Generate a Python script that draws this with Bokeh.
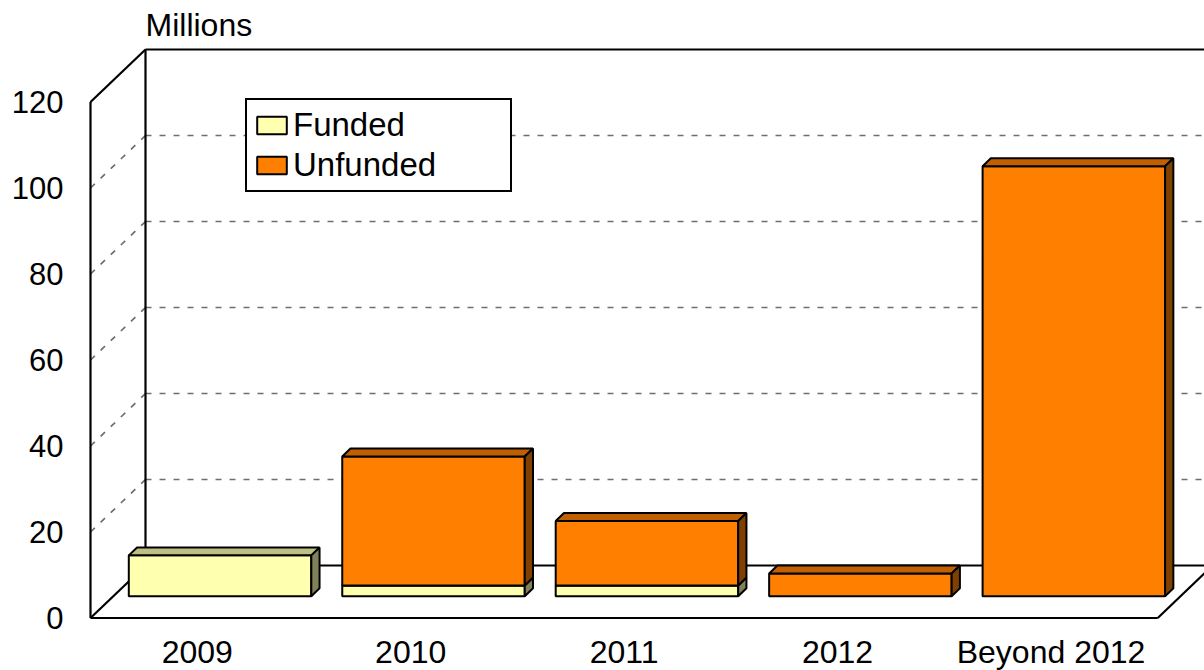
from bokeh.plotting import figure
from bokeh.models import Range1d, FixedTicker, Legend, LegendItem, ColumnDataSource
from bokeh.core.properties import value
from bokeh.embed import file_html
from bokeh.resources import INLINE

# ---------------- data ----------------
categories = ["2009", "2010", "2011", "2012", "Beyond 2012"]
funded = [9.5, 2.5, 2.5, 0.0, 0.0]
unfunded = [0.0, 30.0, 15.0, 5.3, 100.0]
y_ticks = [0, 20, 40, 60, 80, 100, 120]
grid_vals = [20, 40, 60, 80, 100]
y_top = 120

# ---------------- layout constants (figure pixel coords) ----------------
FONT = "Liberation Sans"
PX_PER_CAT = 213.45
PX_PER_M = 4.3
W, H = 1204, 670
LEFT_BORDER = 86
ZERO_X, ZERO_Y = 90.0, 617.5
x_start = (LEFT_BORDER - ZERO_X) / PX_PER_CAT
x_end = (W - ZERO_X) / PX_PER_CAT
y_end = ZERO_Y / PX_PER_M
y_start = -(H - ZERO_Y) / PX_PER_M

DX = 55.0 / PX_PER_CAT      # full depth, x
DY = 52.5 / PX_PER_M        # full depth, y
F0, F1 = 0.415, 0.565       # bar depth span (fractions)
HALF = 0.4275               # half bar width (category units)
n = len(categories)

p = figure(width=W, height=H, output_backend="svg", toolbar_location=None,
           x_range=Range1d(x_start, x_end), y_range=Range1d(y_start, y_end),
           x_axis_location=None, y_axis_location="left",
           min_border_left=LEFT_BORDER, min_border_right=0,
           min_border_top=0, min_border_bottom=0)
p.outline_line_color = None
p.xgrid.visible = False
p.ygrid.visible = False
p.background_fill_color = "white"
p.border_fill_color = "white"

ax = p.yaxis[0]
ax.ticker = FixedTicker(ticks=y_ticks)
ax.major_tick_out = 0
ax.major_tick_in = 0
ax.minor_tick_out = 0
ax.minor_tick_in = 0
ax.axis_line_color = None
ax.major_label_standoff = 23
ax.major_label_text_font = FONT
ax.major_label_text_font_size = "31px"
ax.major_label_text_color = "black"

# ---------------- walls & floor ----------------
GRID_COLOR = "#6E6E6E"
x_far = n + DX
gx0, gy0, gx1, gy1 = [], [], [], []
for v in grid_vals:
    gx0 += [DX, 0]
    gy0 += [v + DY, v]
    gx1 += [x_far, DX]
    gy1 += [v + DY, v + DY]
p.segment(x0=gx0, y0=gy0, x1=gx1, y1=gy1, line_color=GRID_COLOR,
          line_width=1.7, line_dash="6 8")

sx0 = [0, 0, n, 0, 0, DX, DX, DX]
sy0 = [0, 0, 0, 0, y_top, DY, y_top + DY, DY]
sx1 = [0, n, n + DX, DX, DX, DX, x_far, x_far]
sy1 = [y_top, 0, DY, DY, y_top + DY, y_top + DY, y_top + DY, DY]
p.segment(x0=sx0, y0=sy0, x1=sx1, y1=sy1, line_color="black", line_width=2.2)

# ---------------- bars ----------------
def faces(base, vals):
    fr = dict(xs=[], ys=[])
    tp = dict(xs=[], ys=[])
    sd = dict(xs=[], ys=[])
    x0, y0, x1, y1 = F0 * DX, F0 * DY, F1 * DX, F1 * DY
    for i, (b, v) in enumerate(zip(base, vals)):
        if v <= 0:
            continue
        xl, xr = i + 0.5 - HALF, i + 0.5 + HALF
        lo, hi = b, b + v
        fr["xs"].append([xl + x0, xr + x0, xr + x0, xl + x0])
        fr["ys"].append([lo + y0, lo + y0, hi + y0, hi + y0])
        tp["xs"].append([xl + x0, xr + x0, xr + x1, xl + x1])
        tp["ys"].append([hi + y0, hi + y0, hi + y1, hi + y1])
        sd["xs"].append([xr + x0, xr + x1, xr + x1, xr + x0])
        sd["ys"].append([lo + y0, lo + y1, hi + y1, hi + y0])
    return fr, tp, sd

series = [
    ("Funded", [0.0] * n, funded, ("#FFFFB0", "#BFBF84", "#80805A")),
    ("Unfunded", funded, unfunded, ("#FF8000", "#C06000", "#804000")),
]
legend_items = []
for name, base, vals, (c_front, c_top, c_side) in series:
    fr, tp, sd = faces(base, vals)
    r_front = p.patches(xs="xs", ys="ys", source=ColumnDataSource(fr),
                        fill_color=c_front, line_color="black", line_width=2)
    p.patches(xs="xs", ys="ys", source=ColumnDataSource(tp),
              fill_color=c_top, line_color="black", line_width=2)
    p.patches(xs="xs", ys="ys", source=ColumnDataSource(sd),
              fill_color=c_side, line_color="black", line_width=2)
    legend_items.append(LegendItem(label=name, renderers=[r_front]))

# ---------------- texts ----------------
label_x = [i + 0.5 for i in range(n)]
label_y = [-(651 - ZERO_Y) / PX_PER_M] * n
p.text(x=label_x, y=label_y, text=categories, text_font=value(FONT),
       text_font_size="32px", text_align="center", text_baseline="middle",
       text_color="black")

p.text(x=[DX], y=[(ZERO_Y - 24) / PX_PER_M], text=["Millions"],
       text_font=value(FONT), text_font_size="32px", text_align="left",
       text_baseline="middle", text_color="black")

legend = Legend(items=legend_items, location=(245 - LEFT_BORDER, H - 192),
                orientation="vertical", glyph_width=37, glyph_height=22,
                label_text_font=FONT, label_text_font_size="33px",
                label_text_color="black", label_standoff=3, label_width=211,
                label_height=34, padding=6, spacing=2, margin=0,
                border_line_color="black", border_line_width=2,
                border_line_alpha=1.0,
                background_fill_color="white", background_fill_alpha=1.0)
p.add_layout(legend)

open("out.html", "w").write(file_html(p, INLINE))
